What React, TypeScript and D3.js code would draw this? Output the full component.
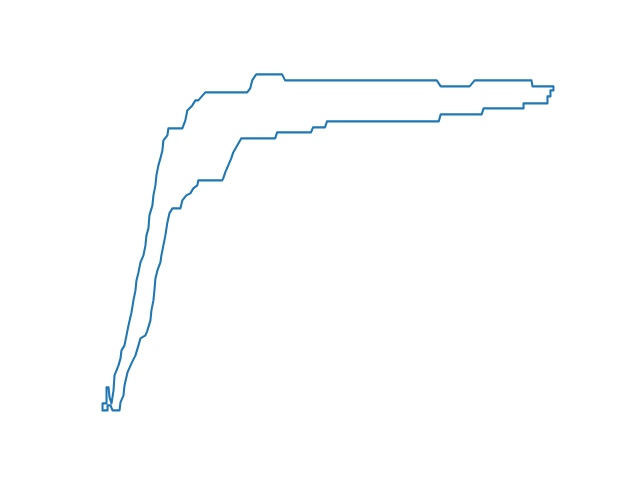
import React, { useEffect, useRef } from "react"
import * as d3 from "d3"

// outline traced clockwise: up the outer edge, across the top, back along the inner edge
const xs = [
  0, 0, 4, 4, 6, 7, 9, 11, 12, 16, 18, 19, 22, 24, 26, 29, 31, 33, 34, 36, 38, 41, 43, 44, 46, 47,
  50, 51, 53, 54, 56, 58, 60, 61, 65, 66, 78, 80, 83, 85, 90, 93, 96, 103, 145, 148, 150, 154,
  180, 183, 335, 339, 368, 373, 430, 431, 452, 452, 449, 449, 446, 446, 422, 422, 382, 380, 339,
  337, 225, 223, 211, 209, 175, 173, 139, 135, 131, 129, 126, 123, 121, 120, 96, 95, 91, 88, 84,
  80, 78, 70, 67, 65, 63, 61, 59, 58, 55, 53, 52, 51, 49, 48, 45, 43, 38, 36, 33, 29, 25, 22, 21,
  18, 17, 10, 8, 5, 5, 0,
]
const ys = [
  0, 7, 7, 23, 23, 13, 7, 20, 35, 45, 52, 60, 65, 75, 85, 98, 110, 120, 130, 138, 148, 155, 165,
  175, 182, 195, 205, 215, 225, 235, 245, 252, 260, 270, 275, 282, 282, 282, 290, 300, 305, 310,
  310, 318, 318, 322, 330, 336, 336, 330, 330, 324, 324, 330, 330, 324, 324, 320, 320, 314, 314,
  307, 307, 302, 302, 296, 296, 289, 289, 283, 283, 278, 278, 272, 272, 265, 258, 252, 245, 238,
  232, 230, 230, 225, 222, 217, 215, 210, 202, 202, 197, 188, 175, 165, 155, 148, 140, 132, 120,
  110, 100, 90, 80, 75, 72, 65, 55, 47, 38, 25, 15, 8, 0, 0, 5, 5, 0, 0,
]

const width = 640
const height = 480

export default function App() {
  const ref = useRef<SVGSVGElement>(null)

  useEffect(() => {
    const svg = d3.select(ref.current)
    svg.selectAll("*").remove()

    const left = 0.125 * width
    const right = 0.9 * width
    const top = (1 - 0.88) * height
    const bottom = (1 - 0.11) * height

    const [x0, x1] = d3.extent(xs) as [number, number]
    const [y0, y1] = d3.extent(ys) as [number, number]
    const px = (x1 - x0) * 0.05
    const py = (y1 - y0) * 0.05

    const x = d3.scaleLinear().domain([x0 - px, x1 + px]).range([left, right])
    const y = d3.scaleLinear().domain([y0 - py, y1 + py]).range([bottom, top])

    const pts = xs.map((v, i) => [v, ys[i]] as [number, number])
    const line = d3.line<[number, number]>()
      .x(d => x(d[0]))
      .y(d => y(d[1]))

    svg.append("rect").attr("width", width).attr("height", height).attr("fill", "white")

    svg.append("path")
      .datum(pts)
      .attr("d", line)
      .attr("fill", "none")
      .attr("stroke", "#1f77b4")
      .attr("stroke-width", 2.08)
      .attr("stroke-linejoin", "round")
      .attr("stroke-linecap", "square")
  }, [])

  return (
    <svg
      ref={ref}
      width={width}
      height={height}
      style={{ position: "absolute", left: 0, top: 0 }}
    />
  )
}
